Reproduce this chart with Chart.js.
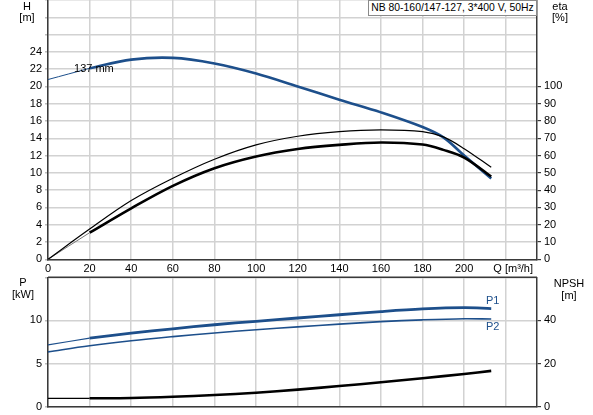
<!DOCTYPE html>
<html>
<head>
<meta charset="utf-8">
<script src="https://cdn.jsdelivr.net/npm/chart.js@4.4.1/dist/chart.umd.min.js"></script>
<style>
  html,body{margin:0;padding:0;background:#fff;}
  body{width:593px;height:415px;overflow:hidden;position:relative;font-family:"Liberation Sans",Arial,sans-serif;}
  canvas{position:absolute;left:0;}
  #c1{top:0;}
  #c2{top:270px;}
  .t{position:absolute;font-size:11px;color:#000;line-height:12px;text-align:center;white-space:nowrap;}
  #title{position:absolute;left:368px;top:0;width:167px;height:14px;border:1px solid #8a8a8a;background:#fff;font-size:10.4px;line-height:14px;text-align:center;white-space:nowrap;z-index:5;}
</style>
</head>
<body>
<canvas id="c1" width="593" height="280"></canvas>
<canvas id="c2" width="593" height="145"></canvas>
<div id="title">NB 80-160/147-127, 3*400 V, 50Hz</div>
<div class="t" style="left:17px;top:0px;width:20px;">H</div>
<div class="t" style="left:12px;top:11px;width:30px;">[m]</div>
<div class="t" style="left:545px;top:0px;width:30px;">eta</div>
<div class="t" style="left:545px;top:11px;width:30px;">[%]</div>
<div class="t" style="left:13px;top:276px;width:20px;">P</div>
<div class="t" style="left:8px;top:288px;width:30px;">[kW]</div>
<div class="t" style="left:549px;top:277px;width:40px;">NPSH</div>
<div class="t" style="left:549px;top:289px;width:40px;">[m]</div>
<script>
// ---- data ----
const hThinQ = [0, 20];
const hThin  = [20.8, 22.1];
const hQ   = [20, 40, 60, 80, 100, 120, 140, 160, 180, 190, 200, 213];
const hVal = [22.1, 23.1, 23.3, 22.66, 21.5, 20.0, 18.46, 17.0, 15.3, 14.1, 12.0, 9.35];

const etaUQ = [0, 20, 40, 60, 80, 100, 120, 140, 160, 180, 190, 200, 213];
const etaU  = [0, 17.5, 34, 46.9, 57.9, 66.2, 71.2, 73.9, 74.9, 73.9, 70.8, 64.0, 53.2];

const etaLThinQ = [0, 20];
const etaLThin  = [0, 15.4];
const etaLQ = [20, 40, 60, 80, 100, 120, 140, 160, 180, 190, 200, 213];
const etaL  = [15.4, 29.5, 42.5, 52.7, 59.5, 63.8, 66.2, 67.6, 66.4, 63.3, 58.8, 47.9];

const p1ThinQ = [0, 20];
const p1Thin  = [7.17, 7.95];
const p1Q = [20, 40, 60, 80, 100, 120, 140, 160, 180, 200, 213];
const p1  = [7.95, 8.53, 9.03, 9.5, 9.9, 10.28, 10.66, 11.03, 11.33, 11.48, 11.38];

const p2Q = [0, 20, 40, 60, 80, 100, 120, 140, 160, 180, 200, 213];
const p2  = [6.36, 7.06, 7.64, 8.12, 8.55, 8.92, 9.25, 9.57, 9.86, 10.07, 10.2, 10.16];

const npThinQ = [0, 20];
const npThin  = [3.9, 3.9];
const npQ = [20, 40, 60, 80, 100, 120, 140, 160, 180, 200, 213];
const np  = [3.9, 4.05, 4.6, 5.4, 6.5, 7.9, 9.6, 11.3, 13.2, 15.2, 16.6];

const qTicksMax = 200;      // last numeric Q label
const hTicksMax = 24;       // last labelled H tick
const etaTicksMax = 100;    // last labelled eta tick
const pTicksMax = 10;
const npshTicksMax = 40;

// ---- helpers ----
const BLUE = '#1d4f8b';
const GRID = '#d2d2d2';
const AXIS = '#3a3a3a';
const FONT = {family: '"Liberation Sans", Arial, sans-serif', size: 11};
const pts = (qs, vs) => qs.map((q, i) => ({x: q, y: vs[i]}));
function fixW(w){ return s => { s.width = w; s.paddingLeft = s.paddingRight = s.paddingTop = s.paddingBottom = 0; }; }
function fixH(h){ return s => { s.height = h; s.paddingLeft = s.paddingRight = s.paddingTop = s.paddingBottom = 0; }; }
function line(data, color, width, axis){
  return {data, borderColor: color, borderWidth: width, pointRadius: 0, fill: false,
          tension: 0.35, yAxisID: axis, borderCapStyle: 'butt'};
}

const labelPlugin = {
  id: 'labels',
  afterDatasetsDraw(chart, args, opts){
    const ctx = chart.ctx;
    ctx.save();
    ctx.font = '11px "Liberation Sans", Arial, sans-serif';
    ctx.fillStyle = '#000';
    ctx.textBaseline = 'middle';
    ctx.textAlign = 'left';
    (opts.items || []).forEach(it => {
      const x = chart.scales.x.getPixelForValue(it.x);
      const y = chart.scales[it.axis].getPixelForValue(it.y);
      ctx.fillStyle = it.color || '#000';
      ctx.fillText(it.text, x, y);
    });
    if (opts.topBorder){
      const a = chart.chartArea;
      ctx.strokeStyle = AXIS; ctx.lineWidth = 1.5;
      ctx.beginPath(); ctx.moveTo(a.left, a.top); ctx.lineTo(a.right, a.top); ctx.stroke();
    }
    if (opts.qLabel){
      const a = chart.chartArea;
      ctx.fillStyle = '#000';
      ctx.fillText(opts.qLabel, chart.scales.x.getPixelForValue(214), a.bottom + 10);
    }
    ctx.restore();
  }
};

const xCommon = (showTicks, h) => ({
  type: 'linear', min: 0, max: 235,
  ticks: {display: showTicks, stepSize: 20, includeBounds: false, font: FONT, color: '#000', padding: 3,
          callback: v => v <= qTicksMax ? v : ''},
  grid: {color: GRID, lineWidth: 1.5, drawTicks: false},
  border: {color: AXIS, width: 1.5},
  afterFit: fixH(h)
});

new Chart(document.getElementById('c1'), {
  type: 'line',
  data: {datasets: [
    line(pts(etaUQ, etaU), '#000', 1.2, 'y1'),
    line(pts(etaLThinQ, etaLThin), '#777', 1, 'y1'),
    line(pts(etaLQ, etaL), '#000', 2.6, 'y1'),
    line(pts(hThinQ, hThin), BLUE, 1, 'y'),
    line(pts(hQ, hVal), BLUE, 2.6, 'y')
  ]},
  options: {
    responsive: false, animation: false, events: [],
    layout: {padding: 0},
    plugins: {legend: {display: false}, tooltip: {enabled: false},
      labels: {items: [{text: '137 mm', x: 12.5, y: 22.0, axis: 'y'}], qLabel: 'Q [m³/h]'}},
    scales: {
      x: xCommon(true, 20.7),
      y: {type: 'linear', position: 'left', min: 0, max: 30,
          ticks: {stepSize: 2, font: FONT, color: '#000', padding: 3, callback: v => v <= hTicksMax ? v : ''},
          grid: {color: GRID, lineWidth: 1.5, tickLength: 3, tickColor: '#bdbdbd'},
          border: {color: AXIS, width: 1.5},
          afterFit: fixW(48)},
      y1: {type: 'linear', position: 'right', min: 0, max: 150,
          ticks: {stepSize: 10, font: FONT, color: '#000', padding: 3, callback: v => v <= etaTicksMax ? v : ''},
          grid: {drawOnChartArea: false, tickLength: 4, lineWidth: 1.2,
                 tickColor: c => (c.tick && c.tick.value <= etaTicksMax) ? AXIS : 'rgba(0,0,0,0)'},
          border: {color: AXIS, width: 1.5},
          afterFit: fixW(56)}
    }
  },
  plugins: [labelPlugin]
});

new Chart(document.getElementById('c2'), {
  type: 'line',
  data: {datasets: [
    line(pts(npThinQ, npThin), '#000', 1.3, 'y1'),
    line(pts(npQ, np), '#000', 2.6, 'y1'),
    line(pts(p2Q, p2), BLUE, 1.6, 'y'),
    line(pts(p1ThinQ, p1Thin), BLUE, 1.2, 'y'),
    line(pts(p1Q, p1), BLUE, 2.8, 'y')
  ]},
  options: {
    responsive: false, animation: false, events: [],
    layout: {padding: {top: 7.3, left: 0, right: 0, bottom: 0}},
    plugins: {legend: {display: false}, tooltip: {enabled: false},
      labels: {items: [
        {text: 'P1', x: 210.5, y: 12.2, axis: 'y', color: BLUE},
        {text: 'P2', x: 210.5, y: 9.3, axis: 'y', color: BLUE}
      ], topBorder: true}},
    scales: {
      x: xCommon(false, 8.3),
      y: {type: 'linear', position: 'left', min: 0, max: 15,
          ticks: {stepSize: 5, font: FONT, color: '#000', padding: 3, callback: v => v <= pTicksMax ? v : ''},
          grid: {color: GRID, lineWidth: 1.5, tickLength: 3, tickColor: '#bdbdbd'},
          border: {color: AXIS, width: 1.5},
          afterFit: fixW(48)},
      y1: {type: 'linear', position: 'right', min: 0, max: 60,
          ticks: {stepSize: 20, font: FONT, color: '#000', padding: 3, callback: v => v <= npshTicksMax ? v : ''},
          grid: {drawOnChartArea: false, tickLength: 4, lineWidth: 1.2,
                 tickColor: c => (c.tick && c.tick.value <= npshTicksMax) ? AXIS : 'rgba(0,0,0,0)'},
          border: {color: AXIS, width: 1.5},
          afterFit: fixW(56)}
    }
  },
  plugins: [labelPlugin]
});
</script>
</body>
</html>
